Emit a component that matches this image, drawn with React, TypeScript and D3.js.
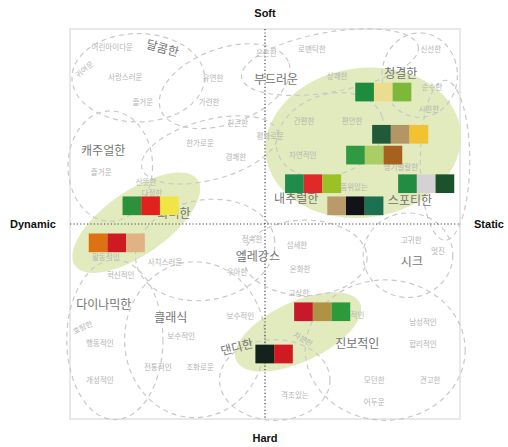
import React from 'react';
import * as d3 from 'd3';

// image scale: x = dynamic(-) .. static(+), y = hard(-) .. soft(+)
const axisLabels = ['Soft', 'Hard', 'Dynamic', 'Static'];

const keyWords = ['달콤한', '부드러운', '청결한', '캐주얼한', '화려한', '내추럴한', '스포티한', '엘레강스', '시크', '다이나믹한', '클래식', '댄디한', '진보적인'];
const keyX = [-1.58, 0.17, 2.09, -2.49, -1.40, 0.48, 2.23, -0.11, 2.26, -2.48, -1.45, -0.43, 1.42];
const keyY = [2.69, 2.20, 2.29, 1.11, 0.15, 0.37, 0.34, -0.52, -0.60, -1.25, -1.45, -1.91, -1.86];
const keyTilt = [15, 0, 0, 0, 0, 0, 0, 0, 0, 0, 0, -15, 0];

const subWords = ['어린아이다운', '귀여운', '사랑스러운', '유연한', '즐거운', '가련한', '친근한', '은은한', '로맨틱한', '상쾌한', '신선한', '순수한', '시원한', '간편한', '편안한', '평화로운', '자연적인', '한가로운', '경쾌한', '즐거운', '산뜻한', '다정한', '생기발랄한', '품위있는', '활동적인', '사치스러운', '혁신적인', '정숙한', '섬세한', '우아한', '온화한', '고귀한', '멋진', '고상한', '지적인', '호탕한', '보수적인', '보수적인', '행동적인', '전통적인', '조화로운', '개성적인', '차분한', '남성적인', '합리적인', '모던한', '견고한', '어두운', '격조있는'];
const subX = [-2.35, -2.77, -2.15, -0.80, -1.88, -0.86, -0.42, 0.02, 0.72, 1.11, 2.55, 2.57, 2.52, 0.60, 1.34, 0.08, 0.58, -1.00, -0.45, -2.52, -1.83, -1.74, 2.09, 1.37, -2.45, -1.54, -2.22, -0.20, 0.49, -0.43, 0.54, 2.25, 2.66, 0.52, 1.37, -2.80, -0.38, -1.29, -2.54, -1.65, -1.00, -2.54, 0.58, 2.43, 2.43, 1.68, 2.54, 1.68, 0.46];
const subY = [2.71, 2.37, 2.25, 2.23, 1.86, 1.86, 1.54, 2.62, 2.68, 2.26, 2.68, 2.09, 1.75, 1.57, 1.57, 1.34, 1.05, 1.23, 1.02, 0.78, 0.63, 0.46, 0.86, 0.55, -0.52, -0.60, -0.80, -0.25, -0.34, -0.75, -0.71, -0.26, -0.43, -1.08, -1.42, -1.60, -1.43, -1.74, -1.85, -2.22, -2.22, -2.42, -1.78, -1.52, -1.86, -2.42, -2.42, -2.75, -2.65];
const subTilt: Record<number, number> = { 1: -40, 35: -25, 42: 30 };

// dashed word regions: centre, radii (scale units), tilt
const regionX = [-1.95, -0.62, 1.00, 2.38, -2.38, -0.85, -0.92, -2.31, -1.08, 0.62, 2.20, 1.85, 0.15, 1.00, 2.77];
const regionY = [2.25, 2.12, 2.49, 2.29, 0.89, 1.14, -0.40, -1.78, -1.78, -0.52, -0.48, -1.94, -2.40, 1.37, 0.98];
const regionRx = [1.02, 1.05, 1.38, 0.58, 0.65, 1.08, 1.08, 0.74, 1.08, 0.95, 0.69, 1.23, 0.85, 0.85, 0.38];
const regionRy = [0.68, 0.58, 0.46, 0.65, 0.85, 0.46, 0.77, 1.23, 1.20, 0.58, 0.65, 1.08, 0.62, 0.62, 1.23];
const regionTilt = [0, -20, -10, 0, 0, -15, -10, 0, 0, 0, 0, 0, 0, -20, 0];

// highlighted clusters
const clusterX = [1.51, -1.98, 0.51];
const clusterY = [1.25, 0.02, -1.66];
const clusterRx = [1.51, 1.15, 1.05];
const clusterRy = [1.15, 0.49, 0.46];
const clusterTilt = [-8, -35, -25];

// colour combinations: centre of each strip and its colours
const paletteX = [1.82, 2.08, 1.68, 0.74, 2.48, 1.39, -1.76, -2.28, 0.88, 0.14];
const paletteY = [2.03, 1.38, 1.06, 0.62, 0.62, 0.28, 0.28, -0.29, -1.35, -2.0];
const paletteColors = [
  ['#1f8b3e', '#ecdc8e', '#7cb83a'],
  ['#215a38', '#b39566', '#f2c232'],
  ['#2f9a42', '#aacd66', '#a6601f'],
  ['#1f8c4c', '#e02a2a', '#9ac224'],
  ['#228c42', '#d4d2d2', '#1b5229'],
  ['#bb9a6a', '#111318', '#1b7152'],
  ['#2b913a', '#e0221f', '#f1e545'],
  ['#de7212', '#d01a22', '#e2b382'],
  ['#c8192a', '#b09243', '#2a9a3a'],
  ['#13231b', '#d01a22'],
];

const W = 508;
const H = 447;
const CELL = 18.7;
const KR = '"Noto Sans CJK KR", "Noto Sans", sans-serif';

export default function App() {
  const x = d3.scaleLinear().domain([-3, 3]).range([70, 460]);
  const y = d3.scaleLinear().domain([-3, 3]).range([419, 29]);
  const k = x(1) - x(0);

  const ell = (cx: number, cy: number, rx: number, ry: number, t: number) =>
    `translate(${x(cx)},${y(cy)}) rotate(${t})`;

  return (
    <svg width={W} height={H} style={{ position: 'absolute', left: 0, top: 0, background: '#fff' }}>
      <rect x={x(-3)} y={y(3)} width={x(3) - x(-3)} height={y(-3) - y(3)} fill="none" stroke="#d2d2d2" />

      {clusterX.map((cx, i) => (
        <ellipse key={'c' + i} transform={ell(cx, clusterY[i], 0, 0, clusterTilt[i])}
          rx={clusterRx[i] * k} ry={clusterRy[i] * k} fill="#e2ebbd" />
      ))}

      {regionX.map((cx, i) => (
        <ellipse key={'r' + i} transform={ell(cx, regionY[i], 0, 0, regionTilt[i])}
          rx={regionRx[i] * k} ry={regionRy[i] * k} fill="none"
          stroke="#c9c9c9" strokeWidth={1.2} strokeDasharray="5 4" />
      ))}

      <line x1={x(0)} x2={x(0)} y1={y(3)} y2={y(-3)} stroke="#444" strokeWidth={1.2} strokeDasharray="1.2 2.2" />
      <line x1={x(-3)} x2={x(3)} y1={y(0)} y2={y(0)} stroke="#444" strokeWidth={1.2} strokeDasharray="1.2 2.2" />

      {subWords.map((w, i) => (
        <text key={'s' + i} transform={`translate(${x(subX[i])},${y(subY[i])}) rotate(${subTilt[i] || 0})`}
          textAnchor="middle" dominantBaseline="middle" fontFamily={KR} fontSize={7.5} fill="#b4b4b4">{w}</text>
      ))}

      {keyWords.map((w, i) => (
        <text key={'k' + i} transform={`translate(${x(keyX[i])},${y(keyY[i])}) rotate(${keyTilt[i]})`}
          textAnchor="middle" dominantBaseline="middle" fontFamily={KR} fontSize={12} fill="#747474">{w}</text>
      ))}

      {paletteColors.map((cols, i) => {
        const x0 = x(paletteX[i]) - (cols.length * CELL) / 2;
        const y0 = y(paletteY[i]) - CELL / 2;
        return cols.map((c, j) => (
          <rect key={'p' + i + '-' + j} x={x0 + j * CELL} y={y0} width={CELL} height={CELL} fill={c} />
        ));
      })}

      <g fontFamily="'Liberation Sans', Arial, sans-serif" fontWeight="bold" fontSize={11} fill="#111">
        <text x={x(0)} y={17} textAnchor="middle">{axisLabels[0]}</text>
        <text x={x(0)} y={442} textAnchor="middle">{axisLabels[1]}</text>
        <text x={33} y={y(0) + 4} textAnchor="middle">{axisLabels[2]}</text>
        <text x={489} y={y(0) + 4} textAnchor="middle">{axisLabels[3]}</text>
      </g>
    </svg>
  );
}
